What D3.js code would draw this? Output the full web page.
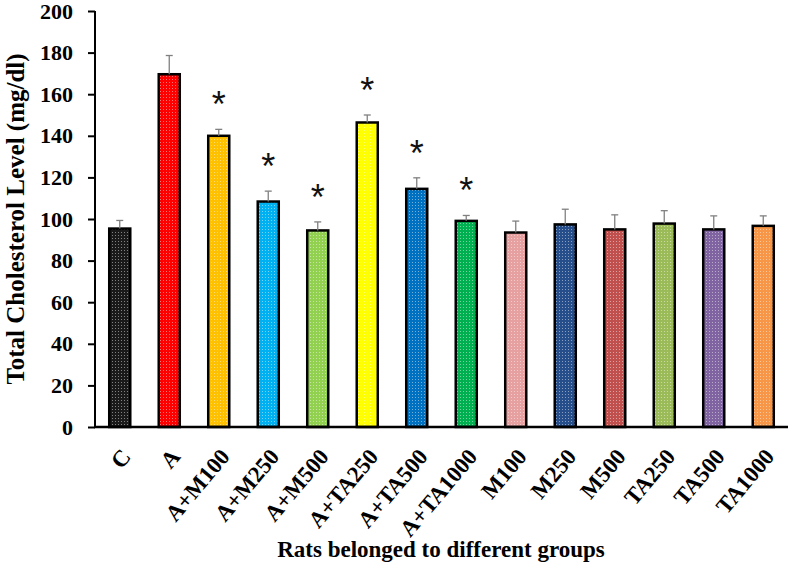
<!DOCTYPE html>
<html>
<head>
<meta charset="utf-8">
<script src="https://cdn.jsdelivr.net/npm/d3@7"></script>
<style>
  html, body { margin: 0; padding: 0; background: #fff; }
  svg { display: block; }
</style>
</head>
<body>
<div id="chart"></div>
<script>
// ---- data ----
const categories = ["C", "A", "A+M100", "A+M250", "A+M500", "A+TA250", "A+TA500", "A+TA1000",
                    "M100", "M250", "M500", "TA250", "TA500", "TA1000"];
const means  = [95.4, 169.6, 140.0, 108.4, 94.5, 146.4, 114.5, 99.1, 93.5, 97.4, 95.0, 97.8, 95.0, 96.7];
const errors = [3.9, 9.0, 3.1, 5.0, 4.1, 3.6, 5.3, 2.6, 5.5, 7.3, 7.0, 6.2, 6.5, 4.8];
const significant = [false, false, true, true, true, true, true, true, false, false, false, false, false, false];
const colors = ["#1a1a1a", "#ff0000", "#ffc000", "#00b0f0", "#92d050", "#ffff00", "#0070c0", "#00b050",
                "#e6a0a0", "#254e8a", "#c0504d", "#9bbb59", "#8064a2", "#f79646"];
const yTicks = [0, 20, 40, 60, 80, 100, 120, 140, 160, 180, 200];
const yTitle = "Total Cholesterol Level (mg/dl)";
const xTitle = "Rats belonged to different groups";

// ---- layout ----
const W = 790, H = 571;
const pLeft = 95, pRight = 788, pTop = 11, pBottom = 427;
const font = "'Liberation Serif', 'Times New Roman', serif";

const svg = d3.select("#chart").append("svg").attr("width", W).attr("height", H);

const defs = svg.append("defs");
const pat = defs.append("pattern").attr("id", "dots").attr("patternUnits", "userSpaceOnUse")
  .attr("width", 3).attr("height", 3);
pat.append("rect").attr("x", 1).attr("y", 1).attr("width", 1).attr("height", 1)
  .attr("fill", "#fff").attr("fill-opacity", 0.45);

const x = d3.scaleBand().domain(categories).range([pLeft, pRight]).paddingInner(0.575).paddingOuter(0.2875);
const y = d3.scaleLinear().domain([0, 200]).range([pBottom, pTop]);

const data = categories.map((c, i) => ({ c, m: means[i], e: errors[i], s: significant[i], col: colors[i] }));

// bars
const g = svg.append("g");
g.selectAll("rect.bar").data(data).join("rect").attr("class", "bar")
  .attr("x", d => x(d.c)).attr("y", d => y(d.m))
  .attr("width", x.bandwidth()).attr("height", d => y(0) - y(d.m))
  .attr("fill", d => d.col);
g.selectAll("rect.tex").data(data).join("rect").attr("class", "tex")
  .attr("x", d => x(d.c)).attr("y", d => y(d.m))
  .attr("width", x.bandwidth()).attr("height", d => y(0) - y(d.m))
  .attr("fill", "url(#dots)")
  .attr("stroke", "#000").attr("stroke-width", 2.5);

// error bars
const eb = svg.append("g").attr("stroke", "#808080").attr("stroke-width", 1.3);
data.forEach(d => {
  const cx = x(d.c) + x.bandwidth() / 2;
  eb.append("line").attr("x1", cx).attr("x2", cx).attr("y1", y(d.m)).attr("y2", y(d.m + d.e));
  eb.append("line").attr("x1", cx - 3.5).attr("x2", cx + 3.5).attr("y1", y(d.m + d.e)).attr("y2", y(d.m + d.e));
});

// significance stars
svg.append("g").selectAll("text").data(data.filter(d => d.s)).join("text")
  .attr("x", d => x(d.c) + x.bandwidth() / 2)
  .attr("y", d => y(d.m + d.e) - 12)
  .attr("text-anchor", "middle")
  .attr("font-family", "'Liberation Sans', Arial, sans-serif")
  .attr("font-size", 36)
  .attr("fill", "#111")
  .text("*");

// y axis
const yAxis = svg.append("g").attr("transform", `translate(${pLeft},0)`)
  .call(d3.axisLeft(y).tickValues(yTicks).tickSize(7).tickPadding(15).tickFormat(d3.format("d")));
yAxis.select(".domain").attr("stroke", "#000").attr("stroke-width", 2).attr("d", `M0,${pTop}V${pBottom}`);
yAxis.selectAll(".tick line").attr("stroke", "#000").attr("stroke-width", 2);
yAxis.selectAll(".tick text").attr("font-family", font).attr("font-weight", "bold")
  .attr("font-size", 22).attr("fill", "#000");

// x axis
const xAxis = svg.append("g").attr("transform", `translate(0,${pBottom})`)
  .call(d3.axisBottom(x).tickSize(0).tickPadding(0));
xAxis.select(".domain").attr("stroke", "#000").attr("stroke-width", 2.5).attr("d", `M${pLeft - 1},0H${pRight}`);
xAxis.selectAll(".tick text")
  .attr("font-family", font).attr("font-weight", "bold").attr("font-size", 23).attr("fill", "#000")
  .attr("text-anchor", "end").attr("dy", "0.35em")
  .attr("transform", "translate(6,25) rotate(-50)");

// titles
svg.append("text").attr("transform", `translate(15,${(pTop + pBottom) / 2}) rotate(-90)`)
  .attr("text-anchor", "middle").attr("dy", "0.35em")
  .attr("font-family", font).attr("font-weight", "bold").attr("font-size", 25).attr("fill", "#000")
  .text(yTitle);
svg.append("text").attr("x", 441).attr("y", 557)
  .attr("text-anchor", "middle")
  .attr("font-family", font).attr("font-weight", "bold").attr("font-size", 23).attr("fill", "#000")
  .text(xTitle);
</script>
</body>
</html>
